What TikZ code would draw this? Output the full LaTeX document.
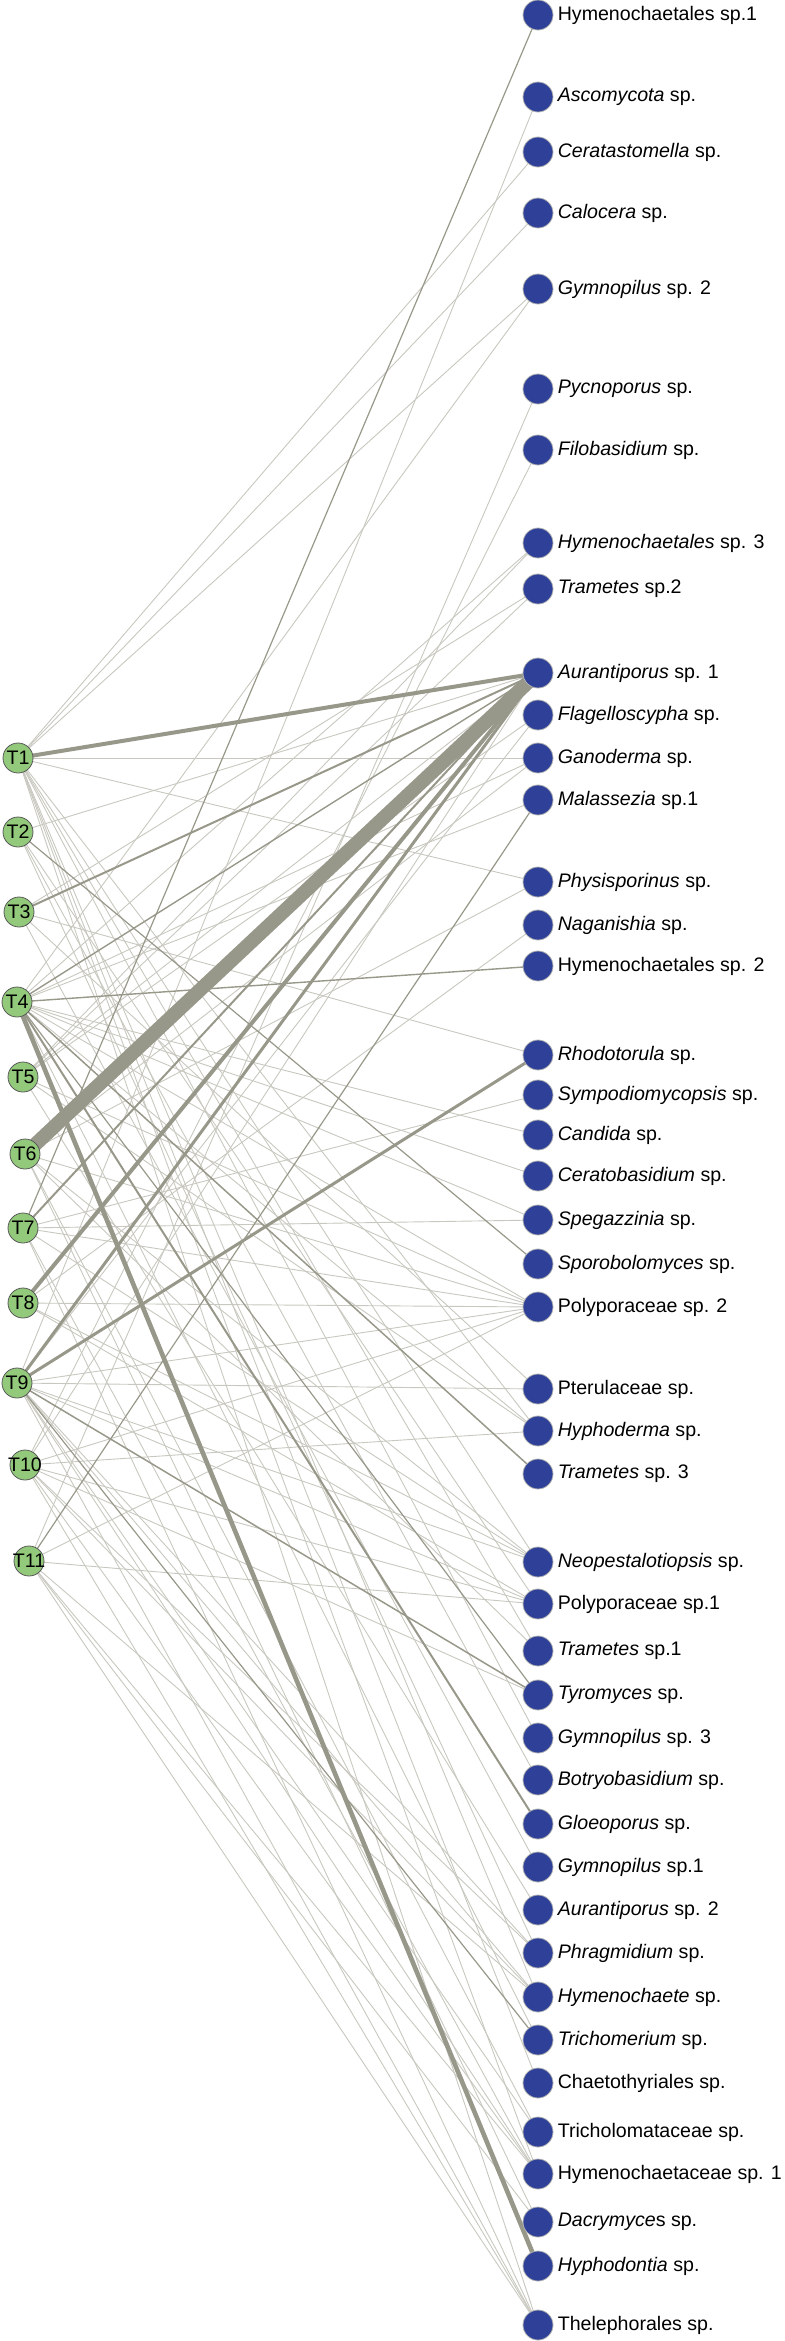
\documentclass[tikz,border=0pt]{standalone}
\usepackage{fontspec}
\setmainfont{Liberation Sans}
\usetikzlibrary{positioning,backgrounds}
\definecolor{treegreen}{RGB}{146,201,122}
\definecolor{fungblue}{RGB}{46,64,152}
\definecolor{linkdark}{RGB}{152,152,138}
\definecolor{linklight}{RGB}{200,200,192}
\tikzset{
  treenode/.style={circle, fill=treegreen, draw=black!65, line width=0.4pt,
    minimum size=15pt, inner sep=0pt},
  treelabel/.style={font=\fontsize{9.8}{10}\selectfont, inner sep=0pt},
  fungnode/.style={circle, fill=fungblue, draw=black!30, line width=0.4pt,
    minimum size=15pt, inner sep=0pt},
  fungname/.style={font=\fontsize{9.8}{10}\selectfont, inner sep=0pt},
  weaklink/.style={draw=linklight, line width=0.45pt},
  stronglink/.style={draw=linkdark}
}
\begin{document}
\begin{tikzpicture}[x=0.5pt,y=-0.5pt]
\useasboundingbox (0,0) rectangle (784,2341);

% trees
\foreach \i/\x/\y in {1/18/758, 2/18/832, 3/19/912, 4/17/1002, 5/23/1077, 6/25/1154,
    7/23/1228, 8/23/1303, 9/17/1383, 10/25/1465, 11/29/1561}
  \node[treenode, label={[treelabel]center:T\i}] (t\i) at (\x,\y) {};

% fungal taxa
\foreach \i/\y/\txt in {
    1/15/{Hymenochaetales sp.1},
    2/97/{\textit{Ascomycota} sp.},
    3/152/{\textit{Ceratastomella} sp.},
    4/213/{\textit{Calocera} sp.},
    5/289/{\textit{Gymnopilus} sp. 2},
    6/389/{\textit{Pycnoporus} sp.},
    7/450/{\textit{Filobasidium} sp.},
    8/543/{\textit{Hymenochaetales} sp. 3},
    9/589/{\textit{Trametes} sp.2},
    10/673/{\textit{Aurantiporus} sp. 1},
    11/715/{\textit{Flagelloscypha} sp.},
    12/758/{\textit{Ganoderma} sp.},
    13/800/{\textit{Malassezia} sp.1},
    14/882/{\textit{Physisporinus} sp.},
    15/925/{\textit{Naganishia} sp.},
    16/966/{Hymenochaetales sp. 2},
    17/1055/{\textit{Rhodotorula} sp.},
    18/1095/{\textit{Sympodiomycopsis} sp.},
    19/1135/{\textit{Candida} sp.},
    20/1176/{\textit{Ceratobasidium} sp.},
    21/1220/{\textit{Spegazzinia} sp.},
    22/1264/{\textit{Sporobolomyces} sp.},
    23/1307/{Polyporaceae sp. 2},
    24/1389/{Pterulaceae sp.},
    25/1431/{\textit{Hyphoderma} sp.},
    26/1474/{\textit{Trametes} sp. 3},
    27/1562/{\textit{Neopestalotiopsis} sp.},
    28/1604/{Polyporaceae sp.1},
    29/1651/{\textit{Trametes} sp.1},
    30/1695/{\textit{Tyromyces} sp.},
    31/1738/{\textit{Gymnopilus} sp. 3},
    32/1780/{\textit{Botryobasidium} sp.},
    33/1824/{\textit{Gloeoporus} sp.},
    34/1867/{\textit{Gymnopilus} sp.1},
    35/1910/{\textit{Aurantiporus} sp. 2},
    36/1953/{\textit{Phragmidium} sp.},
    37/1997/{\textit{Hymenochaete} sp.},
    38/2040/{\textit{Trichomerium} sp.},
    39/2083/{Chaetothyriales sp.},
    40/2132/{Tricholomataceae sp.},
    41/2174/{Hymenochaetaceae sp. 1},
    42/2222/{\textit{Dacrymyce}s sp.},
    43/2266/{\textit{Hyphodontia} sp.},
    44/2325/{Thelephorales sp.}}
{
  \node[fungnode] (f\i) at (538,\y) {};
  \node[fungname, right=2pt of f\i] (n\i) {\txt};
}

% interactions
\begin{pgfonlayer}{background}
\foreach \a/\b in {1/3, 1/4, 1/5, 1/12, 1/14, 1/25, 1/27, 1/29, 1/31, 1/37, 1/39, 1/41, 1/44,
    2/10, 2/28, 2/32, 2/36,
    3/9, 3/17, 3/24, 3/34,
    4/5, 4/8, 4/12, 4/13, 4/19, 4/20, 4/21, 4/23, 4/25, 4/38,
    5/8, 5/9, 5/10, 5/11, 5/23, 5/25, 5/35,
    6/12, 6/14, 6/23, 6/27, 6/29, 6/40, 6/42,
    7/18, 7/21, 7/23, 7/27, 7/41, 7/44,
    8/15, 8/23, 8/27, 8/28,
    9/2, 9/11, 9/23, 9/24, 9/27, 9/28, 9/36, 9/37, 9/40, 9/41, 9/44,
    10/7, 10/10, 10/23, 10/25, 10/28, 10/30, 10/36, 10/37, 10/41, 10/44,
    11/6, 11/23, 11/28, 11/37, 11/41, 11/42, 11/44}
  \draw[weaklink] (t\a.center) -- (f\b.center);
\foreach \a/\b/\w in {7/1/0.6, 2/22/0.6, 4/16/0.7, 4/26/0.75, 11/13/0.6, 4/10/0.7,
    9/30/0.75, 4/30/0.6, 9/38/0.6, 3/10/1, 7/10/1, 4/33/1, 9/10/1.5, 9/17/1.5,
    1/10/2, 8/10/2, 4/43/2.3, 6/10/7}
  \draw[stronglink, line width=\w pt] (t\a.center) -- (f\b.center);
\end{pgfonlayer}
\end{tikzpicture}
\end{document}
